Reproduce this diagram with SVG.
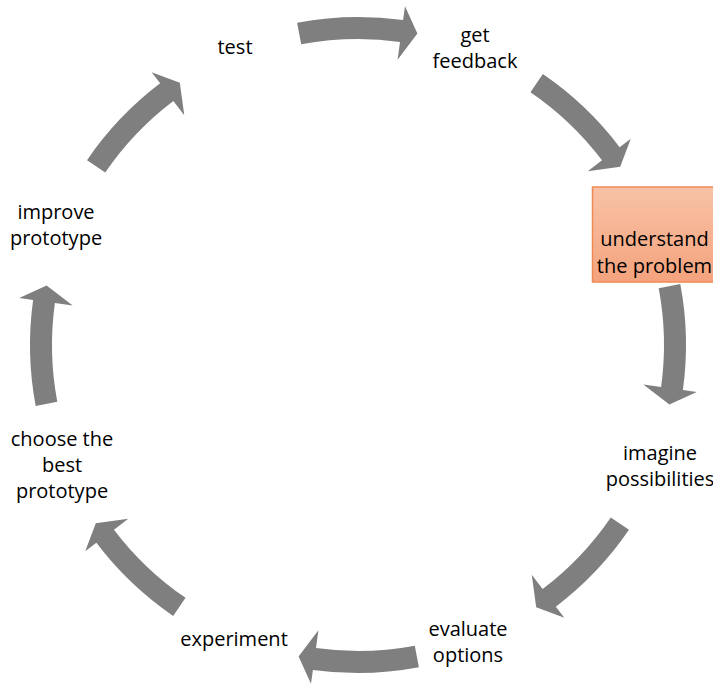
<svg xmlns="http://www.w3.org/2000/svg" width="713" height="686" viewBox="0 0 713 686">
<defs>
<linearGradient id="boxFill" x1="0" y1="0" x2="0" y2="1">
<stop offset="0" stop-color="#F8C2A6"/>
<stop offset="1" stop-color="#F4A37D"/>
</linearGradient>
</defs>
<style>
.lbl{font-family:"Open Sans","Liberation Sans",sans-serif;font-size:20px;fill:#000;text-anchor:middle}
.arrow{fill:#7F7F7F}
</style>
<rect width="713" height="686" fill="#fff"/>
<g id="connectors">
<path class="arrow" d="M297.1,22.7 A328,328 0 0 1 403.1,20.1 L405.0,6.2 L417.4,33.6 L397.6,59.7 L400.0,41.9 A306,306 0 0 0 301.2,44.3 Z"/>
<path class="arrow" transform="rotate(45 358 345)" d="M297.1,22.7 A328,328 0 0 1 403.1,20.1 L405.0,6.2 L417.4,33.6 L397.6,59.7 L400.0,41.9 A306,306 0 0 0 301.2,44.3 Z"/>
<path class="arrow" transform="rotate(90 358 345)" d="M297.1,22.7 A328,328 0 0 1 403.1,20.1 L405.0,6.2 L417.4,33.6 L397.6,59.7 L400.0,41.9 A306,306 0 0 0 301.2,44.3 Z"/>
<path class="arrow" transform="rotate(135 358 345)" d="M297.1,22.7 A328,328 0 0 1 403.1,20.1 L405.0,6.2 L417.4,33.6 L397.6,59.7 L400.0,41.9 A306,306 0 0 0 301.2,44.3 Z"/>
<path class="arrow" transform="rotate(180 358 345)" d="M297.1,22.7 A328,328 0 0 1 403.1,20.1 L405.0,6.2 L417.4,33.6 L397.6,59.7 L400.0,41.9 A306,306 0 0 0 301.2,44.3 Z"/>
<path class="arrow" transform="rotate(225 358 345)" d="M297.1,22.7 A328,328 0 0 1 403.1,20.1 L405.0,6.2 L417.4,33.6 L397.6,59.7 L400.0,41.9 A306,306 0 0 0 301.2,44.3 Z"/>
<path class="arrow" transform="rotate(270 358 345)" d="M297.1,22.7 A328,328 0 0 1 403.1,20.1 L405.0,6.2 L417.4,33.6 L397.6,59.7 L400.0,41.9 A306,306 0 0 0 301.2,44.3 Z"/>
<path class="arrow" transform="rotate(315 358 345)" d="M297.1,22.7 A328,328 0 0 1 403.1,20.1 L405.0,6.2 L417.4,33.6 L397.6,59.7 L400.0,41.9 A306,306 0 0 0 301.2,44.3 Z"/>
</g>
<g id="node-test"><text class="lbl" x="235" y="54">test</text></g>
<g id="node-get-feedback"><text class="lbl" x="475" y="42">get</text><text class="lbl" x="475" y="68">feedback</text></g>
<g id="node-understand">
<rect x="592.5" y="187" width="125" height="95" fill="url(#boxFill)" stroke="#F08A55" stroke-width="1.5"/>
<text class="lbl" x="654.5" y="246">understand</text><text class="lbl" x="654.5" y="273">the problem</text>
</g>
<g id="node-imagine"><text class="lbl" x="660" y="460">imagine</text><text class="lbl" x="660" y="486">possibilities</text></g>
<g id="node-evaluate"><text class="lbl" x="468" y="636">evaluate</text><text class="lbl" x="468" y="662">options</text></g>
<g id="node-experiment"><text class="lbl" x="234" y="646">experiment</text></g>
<g id="node-choose"><text class="lbl" x="62" y="446">choose the</text><text class="lbl" x="62" y="472">best</text><text class="lbl" x="62" y="498">prototype</text></g>
<g id="node-improve"><text class="lbl" x="56" y="219">improve</text><text class="lbl" x="56" y="245">prototype</text></g>
</svg>
